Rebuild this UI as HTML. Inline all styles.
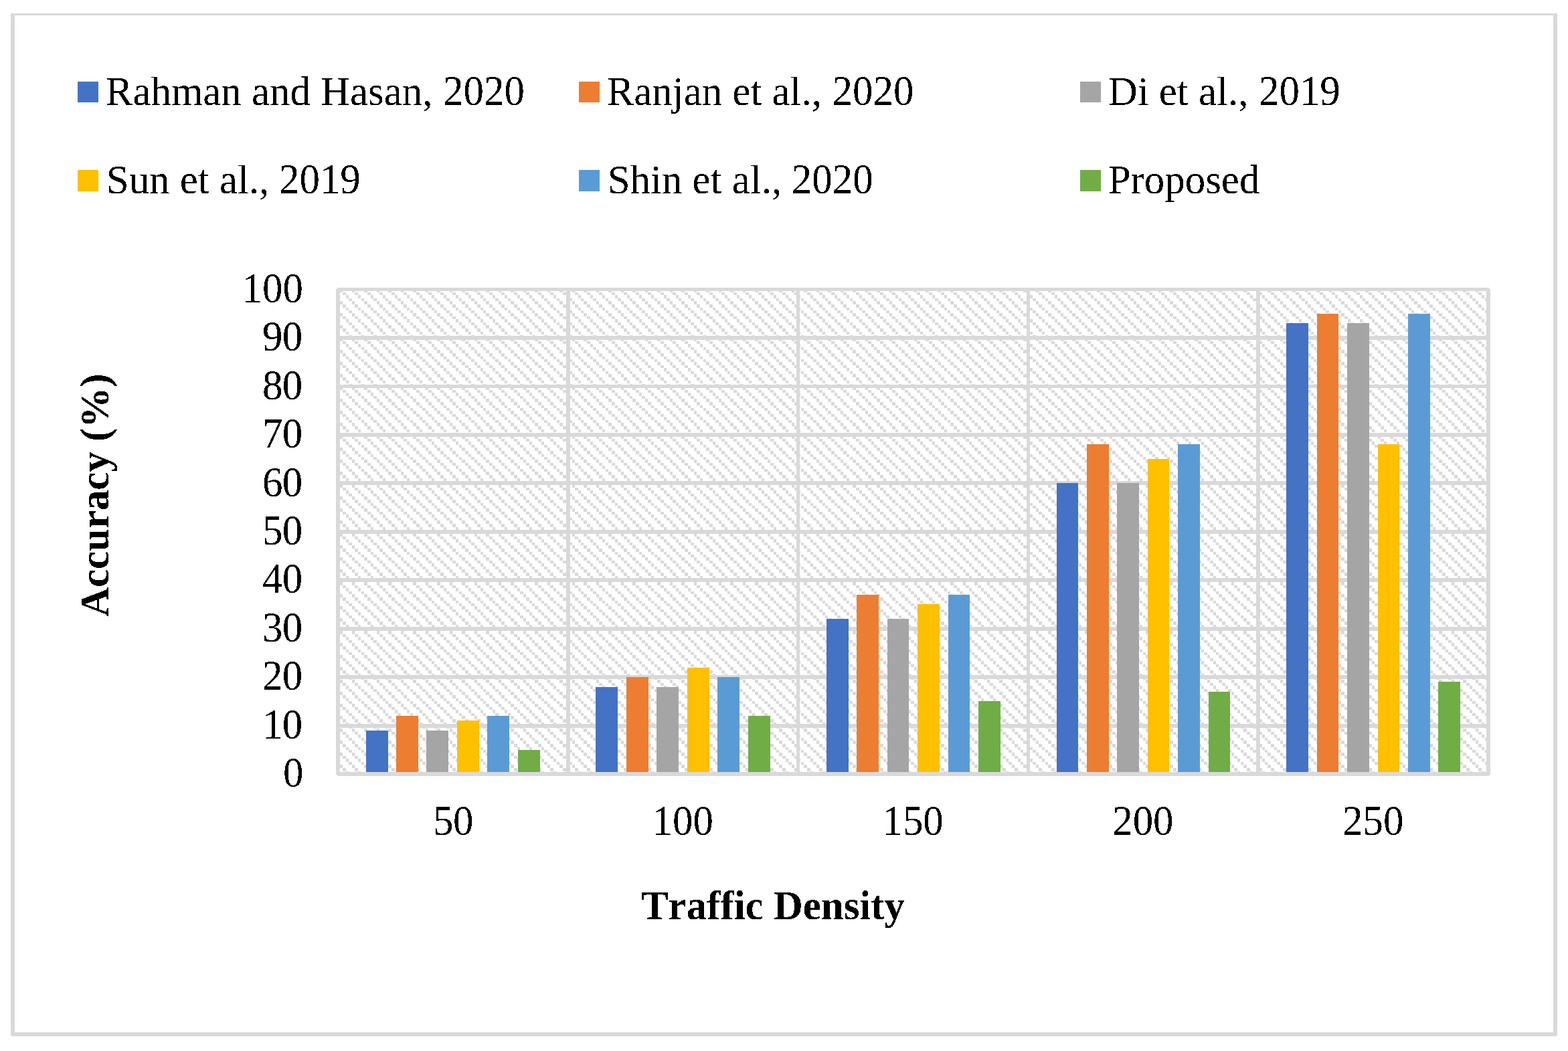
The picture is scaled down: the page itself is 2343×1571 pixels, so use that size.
<!DOCTYPE html>
<html lang="en"><head><meta charset="utf-8"><title>Accuracy vs Traffic Density</title>
<style>
html,body{margin:0;padding:0;background:#fff;}
body{width:2343px;height:1571px;}
svg{display:block;}
text{font-family:"Liberation Serif","Times New Roman",Times,serif;font-size:60.9px;fill:#000;font-variant-ligatures:none;font-kerning:none;}
.b{font-weight:bold;}
.n{letter-spacing:-0.5px;}
</style></head><body>
<svg width="2343" height="1571" viewBox="0 0 2343 1571" role="img" aria-label="Accuracy (%) versus traffic density for six methods">
<defs><pattern id="hatch" x="512" y="437" width="73" height="73" patternUnits="userSpaceOnUse">
<rect width="73" height="73" fill="#fff"/>
<path fill="#D9D9D9" shape-rendering="crispEdges" d="M0 0h5v4h-5zM18 0h5v4h-5zM37 0h5v4h-5zM55 0h5v4h-5zM5 4h4v5h-4zM23 4h4v5h-4zM42 4h4v5h-4zM60 4h4v5h-4zM9 9h5v4h-5zM28 9h4v4h-4zM46 9h5v4h-5zM64 9h4v4h-4zM14 13h4v5h-4zM32 13h5v5h-5zM51 13h4v5h-4zM68 13h5v5h-5zM0 18h5v5h-5zM18 18h5v5h-5zM37 18h5v5h-5zM55 18h5v5h-5zM5 23h4v4h-4zM23 23h4v4h-4zM42 23h4v4h-4zM60 23h4v4h-4zM9 27h5v4h-5zM28 27h4v4h-4zM46 27h5v4h-5zM64 27h4v4h-4zM14 31h4v5h-4zM32 31h5v5h-5zM51 31h4v5h-4zM68 31h5v5h-5zM0 36h5v4h-5zM18 36h5v4h-5zM37 36h5v4h-5zM55 36h5v4h-5zM5 40h4v5h-4zM23 40h4v5h-4zM42 40h4v5h-4zM60 40h4v5h-4zM9 45h5v4h-5zM28 45h4v4h-4zM46 45h5v4h-5zM64 45h4v4h-4zM14 49h4v5h-4zM32 49h5v5h-5zM51 49h4v5h-4zM68 49h5v5h-5zM0 54h5v5h-5zM18 54h5v5h-5zM37 54h5v5h-5zM55 54h5v5h-5zM5 59h4v4h-4zM23 59h4v4h-4zM42 59h4v4h-4zM60 59h4v4h-4zM9 64h5v4h-5zM28 64h4v4h-4zM46 64h5v4h-5zM64 64h4v4h-4zM14 68h4v5h-4zM32 68h5v5h-5zM51 68h4v5h-4zM68 68h5v5h-5z"/>
</pattern>
<filter id="bilevel" filterUnits="userSpaceOnUse" x="0" y="0" width="2343" height="1571" color-interpolation-filters="sRGB">
<feComponentTransfer><feFuncA type="discrete" tableValues="0 1"/></feComponentTransfer>
</filter></defs>
<rect width="2343" height="1571" fill="#fff"/>
<g fill="#D9D9D9" shape-rendering="crispEdges">
<rect x="16" y="20" width="2311" height="3"/>
<rect x="17" y="1543" width="2309" height="6"/>
<rect x="16" y="20" width="6" height="1528"/>
<rect x="2321" y="20" width="6" height="1528"/>
</g>
<rect x="505" y="433" width="1719" height="724" fill="url(#hatch)"/>
<g fill="#D9D9D9" shape-rendering="crispEdges">
<rect x="504" y="1154" width="1721" height="6"/>
<rect x="504" y="1082" width="1721" height="6"/>
<rect x="504" y="1009" width="1721" height="6"/>
<rect x="504" y="937" width="1721" height="6"/>
<rect x="504" y="864" width="1721" height="6"/>
<rect x="504" y="792" width="1721" height="6"/>
<rect x="504" y="719" width="1721" height="6"/>
<rect x="504" y="647" width="1721" height="6"/>
<rect x="504" y="575" width="1721" height="5"/>
<rect x="504" y="502" width="1721" height="6"/>
<rect x="504" y="430" width="1721" height="5"/>
<rect x="502" y="432" width="6" height="726"/>
<rect x="846" y="432" width="6" height="726"/>
<rect x="1190" y="432" width="5" height="726"/>
<rect x="1534" y="432" width="5" height="726"/>
<rect x="1877" y="432" width="6" height="726"/>
<rect x="2221" y="432" width="6" height="726"/>
</g>
<g shape-rendering="crispEdges">
<rect x="547" y="1092" width="33" height="62" fill="#4472C4"/>
<rect x="592" y="1070" width="33" height="84" fill="#ED7D31"/>
<rect x="637" y="1092" width="33" height="62" fill="#A5A5A5"/>
<rect x="683" y="1077" width="33" height="77" fill="#FFC000"/>
<rect x="728" y="1070" width="33" height="84" fill="#5B9BD5"/>
<rect x="774" y="1121" width="33" height="33" fill="#70AD47"/>
<rect x="890" y="1027" width="33" height="127" fill="#4472C4"/>
<rect x="936" y="1012" width="33" height="142" fill="#ED7D31"/>
<rect x="981" y="1027" width="33" height="127" fill="#A5A5A5"/>
<rect x="1027" y="998" width="33" height="156" fill="#FFC000"/>
<rect x="1072" y="1012" width="33" height="142" fill="#5B9BD5"/>
<rect x="1118" y="1070" width="33" height="84" fill="#70AD47"/>
<rect x="1235" y="925" width="33" height="229" fill="#4472C4"/>
<rect x="1280" y="889" width="33" height="265" fill="#ED7D31"/>
<rect x="1326" y="925" width="32" height="229" fill="#A5A5A5"/>
<rect x="1371" y="903" width="33" height="251" fill="#FFC000"/>
<rect x="1417" y="889" width="32" height="265" fill="#5B9BD5"/>
<rect x="1462" y="1048" width="33" height="106" fill="#70AD47"/>
<rect x="1579" y="722" width="32" height="432" fill="#4472C4"/>
<rect x="1624" y="664" width="33" height="490" fill="#ED7D31"/>
<rect x="1669" y="722" width="33" height="432" fill="#A5A5A5"/>
<rect x="1715" y="686" width="32" height="468" fill="#FFC000"/>
<rect x="1760" y="664" width="33" height="490" fill="#5B9BD5"/>
<rect x="1806" y="1034" width="32" height="120" fill="#70AD47"/>
<rect x="1922" y="483" width="33" height="671" fill="#4472C4"/>
<rect x="1968" y="469" width="32" height="685" fill="#ED7D31"/>
<rect x="2013" y="483" width="33" height="671" fill="#A5A5A5"/>
<rect x="2059" y="664" width="32" height="490" fill="#FFC000"/>
<rect x="2104" y="469" width="33" height="685" fill="#5B9BD5"/>
<rect x="2149" y="1019" width="33" height="135" fill="#70AD47"/>
</g>
<g shape-rendering="crispEdges">
<rect x="116" y="122" width="31" height="31" fill="#4472C4"/>
<rect x="865" y="122" width="31" height="31" fill="#ED7D31"/>
<rect x="1614" y="122" width="31" height="31" fill="#A5A5A5"/>
<rect x="116" y="254" width="31" height="32" fill="#FFC000"/>
<rect x="865" y="254" width="31" height="32" fill="#5B9BD5"/>
<rect x="1614" y="254" width="31" height="32" fill="#70AD47"/>
</g>
<g filter="url(#bilevel)">
<text x="157.8" y="157">Rahman and Hasan,</text>
<text transform="translate(662.1,157) scale(1,1.05)">2020</text>
<text x="906.7" y="157">Ranjan et al.,</text>
<text transform="translate(1243.6,157) scale(1,1.05)">2020</text>
<text x="1655.7" y="157">Di et al.,</text>
<text transform="translate(1881.0,157) scale(1,1.05)">2019</text>
<text x="158.8" y="289">Sun et al.,</text>
<text transform="translate(417.0,289) scale(1,1.05)">2019</text>
<text x="907.7" y="289">Shin et al.,</text>
<text transform="translate(1182.8,289) scale(1,1.05)">2020</text>
<text x="1655.7" y="289">Proposed</text>
<text class="n" transform="translate(453,1176) scale(1,1.05)" text-anchor="end">0</text>
<text class="n" transform="translate(451.8,1104) scale(1,1.05)" text-anchor="end">10</text>
<text class="n" transform="translate(451.8,1031) scale(1,1.05)" text-anchor="end">20</text>
<text class="n" transform="translate(451.8,959) scale(1,1.05)" text-anchor="end">30</text>
<text class="n" transform="translate(451.8,886) scale(1,1.05)" text-anchor="end">40</text>
<text class="n" transform="translate(451.8,814) scale(1,1.05)" text-anchor="end">50</text>
<text class="n" transform="translate(451.8,742) scale(1,1.05)" text-anchor="end">60</text>
<text class="n" transform="translate(451.8,669) scale(1,1.05)" text-anchor="end">70</text>
<text class="n" transform="translate(451.8,597) scale(1,1.05)" text-anchor="end">80</text>
<text class="n" transform="translate(451.8,524) scale(1,1.05)" text-anchor="end">90</text>
<text transform="translate(453,452) scale(1,1.05)" text-anchor="end">100</text>
<text class="n" transform="translate(676.9,1248) scale(1,1.05)" text-anchor="middle">50</text>
<text transform="translate(1020.3,1248) scale(1,1.05)" text-anchor="middle">100</text>
<text transform="translate(1364.1,1248) scale(1,1.05)" text-anchor="middle">150</text>
<text transform="translate(1707.9,1248) scale(1,1.05)" text-anchor="middle">200</text>
<text transform="translate(2051.7,1248) scale(1,1.05)" text-anchor="middle">250</text>
<text class="b" x="958" y="1374">Traffic Density</text>
<text class="b" transform="translate(162,922) rotate(-90)">Accuracy (%)</text>
</g>
</svg>
</body></html>
